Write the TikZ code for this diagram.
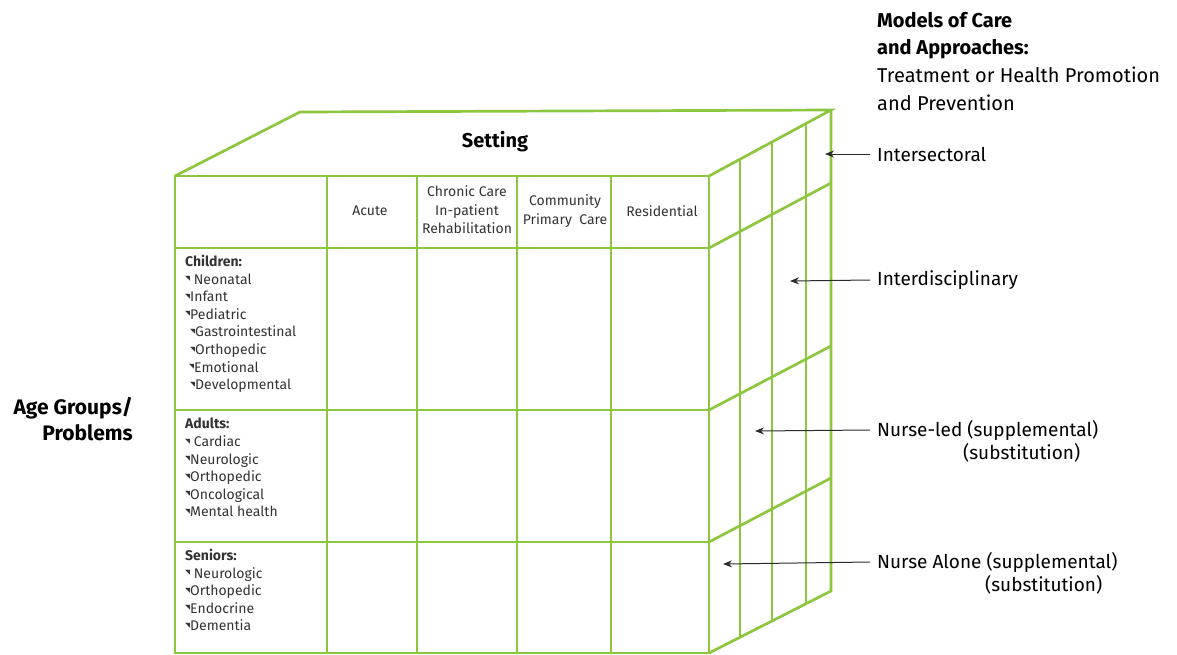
\documentclass[tikz,border=0pt]{standalone}
\usepackage{fontspec}
\setmainfont{Fira Sans}
\newfontfamily\symfont{DejaVu Sans}
\usetikzlibrary{arrows.meta,positioning}
\definecolor{cubegreen}{HTML}{8DC63F}
\definecolor{txtgray}{HTML}{333333}
\definecolor{arrgray}{HTML}{2A2A2A}
\newcommand{\tk}{\raisebox{3.4pt}{\symfont\fontsize{6.5}{6.5}\selectfont ◥}}

\begin{document}
\begin{tikzpicture}[x=1pt,y=-1pt,
  grid/.style={cubegreen,line width=2.7pt,line join=miter},
  hdr/.style={align=center,font=\fontsize{14}{18.5}\selectfont,text=txtgray,inner sep=0pt},
  cell/.style={anchor=north west,align=left,font=\fontsize{14}{17.6}\selectfont,text=txtgray,inner sep=0pt},
  lbl/.style={anchor=west,font=\fontsize{19}{26}\selectfont,text=black,inner ysep=0pt,inner xsep=7pt},
  arr/.style={arrgray,line width=1pt,-{Stealth[length=9pt,width=7pt]}}]
\useasboundingbox (0,0) rectangle (1177,654);
% front face
\draw[grid] (175,176) rectangle (709,653);
\foreach \x in {327,417,517,611}{\draw[grid] (\x,176)--(\x,653);}
\foreach \y in {248,410,542}{\draw[grid] (175,\y)--(709,\y);}
% top and right face
\draw[grid] (175,176)--(300,112)--(831,110)--(709,176);
\draw[grid] (831,110)--(831,591)--(709,653);
\foreach \ya/\yb in {248/183,410/346,542/478}{\draw[grid] (709,\ya)--(831,\yb);}
\foreach \x/\yt/\yb in {740/159/637,772/142/621,806/123/604}{\draw[grid] (\x,\yt)--(\x,\yb);}
% texts on the cube
\node[font=\fontsize{20}{24}\selectfont\bfseries] (setting) at (495,142) {Setting};
\node[hdr] (acute) at (370,211) {Acute};
\node[hdr] (chronic) at (467,210) {Chronic Care\\In-patient\\Rehabilitation};
\node[hdr] (commun) at (565,211) {Community\\Primary\ \ Care};
\node[hdr] (resid) at (662,211) {Residential};
\node[cell] (kids) at (185,255) {\textbf{Children:}\\\tk\ Neonatal\\\tk Infant\\\tk Pediatric\\\hspace*{5pt}\tk Gastrointestinal\\\hspace*{5pt}\tk Orthopedic\\\hspace*{4pt}\tk Emotional\\\hspace*{5pt}\tk Developmental};
\node[cell] (adults) at (185,418) {\textbf{Adults:}\\\tk\ Cardiac\\\tk Neurologic\\\tk Orthopedic\\\tk Oncological\\\tk Mental health};
\node[cell] (seniors) at (185,549) {\textbf{Seniors:}\\\tk\ Neurologic\\\tk Orthopedic\\\tk Endocrine\\\tk Dementia};
% side labels
\node[anchor=east,align=right,font=\fontsize{21}{26}\selectfont\bfseries,inner sep=0pt] (age) at (133,419) {Age Groups/\\Problems};
\node[anchor=north west,align=left,font=\fontsize{20}{27.6}\selectfont,inner sep=0pt] (models) at (877,12) {\textbf{Models of Care}\\\textbf{and Approaches:}\\Treatment or Health Promotion\\and Prevention};
\node[lbl] (intsec) at (870,154) {Intersectoral};
\node[lbl] (interd) at (870,280) {Interdisciplinary};
\node[lbl] (nled) at (870,430) {Nurse-led (supplemental)};
\node[lbl] (nled2) at ([xshift=86pt,yshift=-23pt]nled.west) {(substitution)};
\node[lbl] (nalone) at (870,562) {Nurse Alone (supplemental)};
\node[lbl] (nalone2) at ([xshift=108pt,yshift=-23pt]nalone.west) {(substitution)};
\coordinate (pintsec) at (825,154);
\coordinate (pinterd) at (790,281);
\coordinate (pnled) at (755,431);
\coordinate (pnalone) at (723,564);
\draw[arr] (intsec.west)--(pintsec);
\draw[arr] (interd.west)--(pinterd);
\draw[arr] (nled.west)--(pnled);
\draw[arr] (nalone.west)--(pnalone);
\end{tikzpicture}
\end{document}
